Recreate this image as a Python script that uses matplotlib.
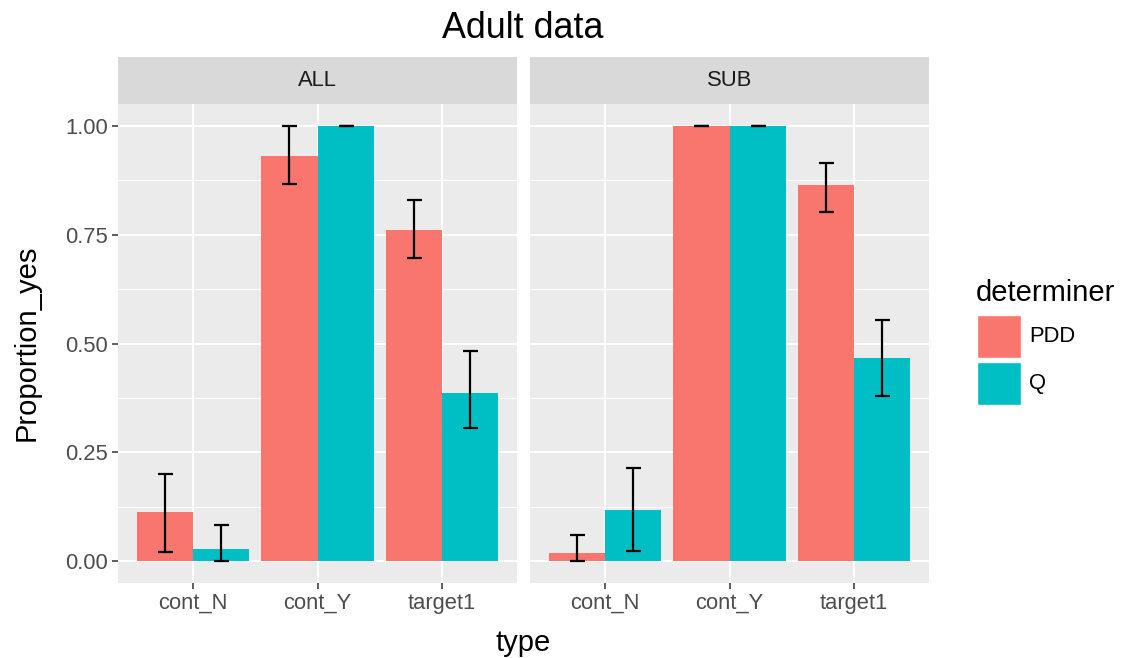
import numpy as np
import matplotlib
matplotlib.use("Agg")
import matplotlib.pyplot as plt
from matplotlib.patches import Rectangle

# proportion of "yes" answers per item type, split by determiner and subset
types = ["cont_N", "cont_Y", "target1"]
panels = ["ALL", "SUB"]
determiners = ["PDD", "Q"]
colors = ["#F8766D", "#00BFC4"]

all_pdd = [0.112, 0.931, 0.760]
all_pdd_lo = [0.021, 0.867, 0.696]
all_pdd_hi = [0.200, 1.000, 0.829]
all_q = [0.028, 1.000, 0.386]
all_q_lo = [0.000, 1.000, 0.305]
all_q_hi = [0.083, 1.000, 0.483]

sub_pdd = [0.018, 1.000, 0.864]
sub_pdd_lo = [0.000, 1.000, 0.803]
sub_pdd_hi = [0.060, 1.000, 0.914]
sub_q = [0.118, 1.000, 0.467]
sub_q_lo = [0.023, 1.000, 0.380]
sub_q_hi = [0.213, 1.000, 0.555]

y_ticks = [0.0, 0.25, 0.5, 0.75, 1.0]
y_tick_labels = ["0.00", "0.25", "0.50", "0.75", "1.00"]

plt.rcParams['font.family'] = ['Liberation Sans', 'DejaVu Sans']

W, H = 1126, 658
fig = plt.figure(figsize=(W / 100, H / 100), dpi=100)


def box(left, top, right, bottom):
    """Pixel box (top-left origin) -> figure fraction rect."""
    return [left / W, 1 - bottom / H, (right - left) / W, (bottom - top) / H]


def draw_panel(ax, series, show_y):
    ax.set_facecolor("#EBEBEB")
    x = np.arange(1, len(types) + 1)
    bw = 0.45
    for i, (vals, lo, hi) in enumerate(series):
        pos = x + (i - 0.5) * bw
        vals = np.array(vals)
        ax.bar(pos, vals, width=bw, color=colors[i], edgecolor="none", zorder=2)
        err = np.vstack([vals - np.array(lo), np.array(hi) - vals])
        ax.errorbar(pos, vals, yerr=err, fmt="none", ecolor="black",
                    elinewidth=1.6, capsize=5.4, capthick=1.6, zorder=3)

    ax.set_xlim(0.4, 3.6)
    ax.set_ylim(-0.05, 1.05)

    # ggplot-style white grid
    for yv in [0.125, 0.375, 0.625, 0.875]:
        ax.axhline(yv, color="white", lw=0.8, zorder=1)
    for yv in y_ticks:
        ax.axhline(yv, color="white", lw=1.5, zorder=1)
    for xv in x:
        ax.axvline(xv, color="white", lw=1.5, zorder=1)

    for s in ax.spines.values():
        s.set_visible(False)

    ax.set_xticks(x)
    ax.set_xticklabels(types)
    ax.set_yticks(y_ticks)
    ax.tick_params(axis="both", length=4, width=1.1, color="#333333",
                   labelcolor="#4D4D4D", labelsize=15.8, pad=3)
    if show_y:
        ax.set_yticklabels(y_tick_labels)
    else:
        ax.tick_params(axis="y", left=False, labelleft=False)


panel_boxes = [(118, 517), (530, 929)]
panel_data = [
    [(all_pdd, all_pdd_lo, all_pdd_hi), (all_q, all_q_lo, all_q_hi)],
    [(sub_pdd, sub_pdd_lo, sub_pdd_hi), (sub_q, sub_q_lo, sub_q_hi)],
]

for k, (name, (left, right)) in enumerate(zip(panels, panel_boxes)):
    ax = fig.add_axes(box(left, 104, right, 583))
    draw_panel(ax, panel_data[k], show_y=(k == 0))

    strip = fig.add_axes(box(left, 57, right, 104))
    strip.set_facecolor("#D9D9D9")
    strip.set_xticks([])
    strip.set_yticks([])
    for s in strip.spines.values():
        s.set_visible(False)
    strip.text(0.5, 0.5, name, ha="center", va="center", fontsize=15.8,
               color="#1A1A1A", transform=strip.transAxes)

# titles
fig.text(523 / W, 1 - 28 / H, "Adult data", ha="center", va="center",
         fontsize=25.8, color="black")
fig.text(523 / W, 1 - 643 / H, "type", ha="center", va="center",
         fontsize=21, color="black")
fig.text(27 / W, 1 - 343 / H, "Proportion_yes", ha="center", va="center",
         rotation=90, fontsize=21, color="black")

# legend
fig.text(976 / W, 1 - 293 / H, "determiner", ha="left", va="center",
         fontsize=21, color="black")
key_tops = [315, 362]
for det, col, top in zip(determiners, colors, key_tops):
    fig.add_artist(Rectangle((977 / W, 1 - (top + 43) / H), 44 / W, 43 / H,
                             facecolor=col, edgecolor="white", lw=1,
                             transform=fig.transFigure))
    fig.text(1029 / W, 1 - (top + 22) / H, det, ha="left", va="center",
             fontsize=15.8, color="black")

fig.savefig("out.png", dpi=100, facecolor="white")
